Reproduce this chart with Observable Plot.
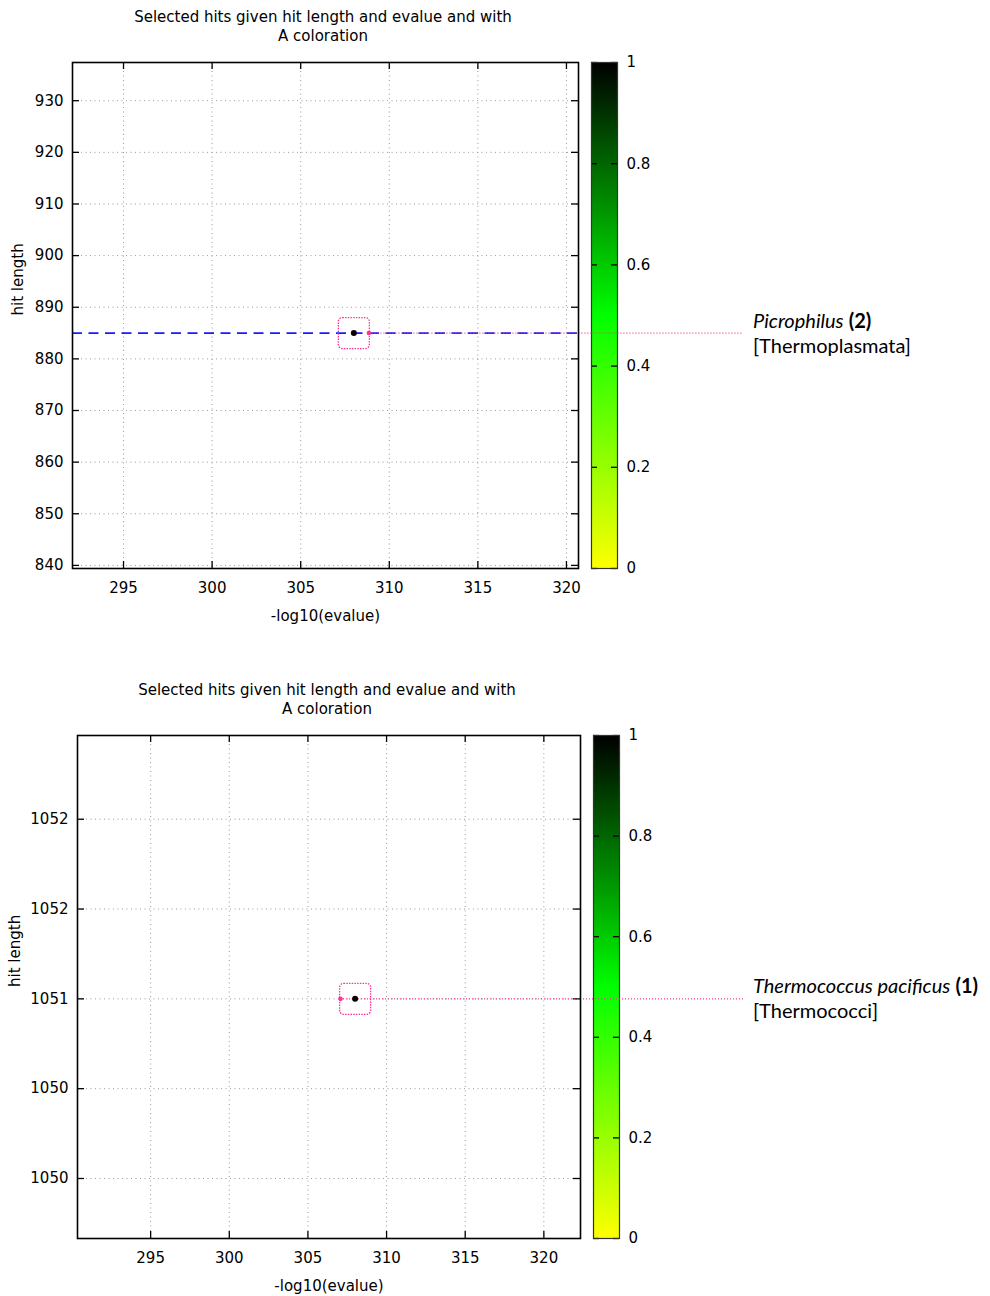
<!DOCTYPE html>
<html>
<head>
<meta charset="utf-8">
<script src="https://cdn.jsdelivr.net/npm/d3@7"></script>
<script src="https://cdn.jsdelivr.net/npm/@observablehq/plot@0.6"></script>
<style>
  body { margin: 0; background: #fff; }
  #root { position: relative; width: 990px; height: 1296px; font-family: "DejaVu Sans", sans-serif; color: #000; }
  .panel { position: absolute; left: 0; width: 990px; }
  .panel svg { position: absolute; top: 0; overflow: visible; }
  .title { position: absolute; top: 7.5px; font-size: 15px; line-height: 19px; text-align: center; white-space: nowrap; transform: translateX(-50%); }
  .lab { position: absolute; font-family: Lato, sans-serif; font-size: 20px; line-height: 25px; white-space: nowrap; }
</style>
</head>
<body>
<div id="root"></div>
<script>
// ---------- data ----------
const titleLines = ["Selected hits given hit length and evalue and with", "A coloration"];
const xLabel = "-log10(evalue)";
const yLabel = "hit length";
const xTicks = [295, 300, 305, 310, 315, 320];
const colorTicks = [0, 0.2, 0.4, 0.6, 0.8, 1];
const colorStops = [0, 0.5, 1];
const colorRange = ["#ffff00", "#00ff00", "#000000"];

// panel 1
const p1XDomain = [292.12, 320.68];
const p1YDomain = [839.4, 937.4];
const p1YTicks = [840, 850, 860, 870, 880, 890, 900, 910, 920, 930];
const p1YTickLabels = ["840", "850", "860", "870", "880", "890", "900", "910", "920", "930"];
const p1Hits = [{evalue: 308.0, length: 885, a: 1}];
const p1Connector = [{evalue: 308.85, length: 885}];
const p1Reference = [885];
const p1Taxon = {name: "Picrophilus", count: "(2)", group: "[Thermoplasmata]"};

// panel 2
const p2XDomain = [290.35, 322.33];
const p2YDomain = [1049.666, 1052.466];
const p2YTicks = [1050, 1050.5, 1051, 1051.5, 1052];
const p2YTickLabels = ["1050", "1050", "1051", "1052", "1052"];
const p2Hits = [{evalue: 308.0, length: 1051, a: 1}];
const p2Connector = [{evalue: 307.07, length: 1051}];
const p2Reference = [];
const p2Taxon = {name: "Thermococcus pacificus", count: "(1)", group: "[Thermococci]"};

// ---------- drawing ----------
const pink = "#ff3399";
const root = document.getElementById("root");

function roundedSquare(c) {
  return {
    draw(ctx, size) {
      const h = Math.sqrt(size / Math.PI);
      ctx.moveTo(-h + c, -h);
      ctx.lineTo(h - c, -h);
      ctx.arcTo(h, -h, h, -h + c, c);
      ctx.lineTo(h, h - c);
      ctx.arcTo(h, h, h - c, h, c);
      ctx.lineTo(-h + c, h);
      ctx.arcTo(-h, h, -h, h - c, c);
      ctx.lineTo(-h, -h + c);
      ctx.arcTo(-h, -h, -h + c, -h, c);
      ctx.closePath();
    }
  };
}

function drawPanel(cfg) {
  const panel = document.createElement("div");
  panel.className = "panel";
  panel.style.top = cfg.top + "px";
  panel.style.height = cfg.height + "px";
  root.appendChild(panel);

  const W = 990, H = cfg.frameBottom + 62;
  const fw = cfg.frameRight - cfg.frameLeft, fh = cfg.frameBottom - cfg.frameTop;
  const tk = 7;
  const fs = 15;
  const labelOf = new Map(cfg.yTicks.map((t, i) => [t, cfg.yTickLabels[i]]));
  const xMax = cfg.xDomain[1];

  // colour bar (drawn first, so the connector line passes over it)
  const cbW = 26, cbSvgW = 70;
  const cb = Plot.plot({
    width: cbSvgW, height: H,
    marginLeft: 1, marginRight: cbSvgW - 1 - cbW,
    marginTop: cfg.frameTop, marginBottom: H - cfg.frameBottom,
    style: {fontFamily: "DejaVu Sans, sans-serif", fontSize: fs + "px", background: "transparent", color: "#000"},
    x: {domain: [0, 1], axis: null},
    y: {domain: [0, 1], axis: null},
    color: {type: "linear", domain: colorStops, range: colorRange, interpolate: "rgb"},
    marks: [
      Plot.raster({x1: 0, x2: 1, y1: 0, y2: 1, fill: (x, y) => y, width: 1, height: 256, imageRendering: "auto"}),
      Plot.ruleY(colorTicks, {y: d => d, insetRight: cbW - 6, stroke: "#000", strokeWidth: 1.3}),
      Plot.ruleY(colorTicks, {y: d => d, insetLeft: cbW - 6, stroke: "#000", strokeWidth: 1.3}),
      Plot.axisY(colorTicks, {anchor: "right", tickSize: 0, tickPadding: 9, label: null, fontSize: fs, tickFormat: d => String(d)}),
      Plot.frame({stroke: "#333", strokeWidth: 1.2})
    ]
  });
  cb.style.left = (cfg.cbLeft - 1) + "px";
  panel.appendChild(cb);

  const main = Plot.plot({
    width: W, height: H,
    marginLeft: cfg.frameLeft, marginRight: W - cfg.frameRight,
    marginTop: cfg.frameTop, marginBottom: H - cfg.frameBottom,
    style: {fontFamily: "DejaVu Sans, sans-serif", fontSize: fs + "px", background: "transparent", color: "#000"},
    x: {domain: cfg.xDomain},
    y: {domain: cfg.yDomain},
    color: {type: "linear", domain: colorStops, range: colorRange, interpolate: "rgb"},
    marks: [
      Plot.gridX(xTicks, {stroke: "#9a9a9a", strokeOpacity: 1, strokeDasharray: "1,3.5"}),
      Plot.gridY(cfg.yTicks, {stroke: "#9a9a9a", strokeOpacity: 1, strokeDasharray: "1,3.5"}),
      Plot.ruleX(xTicks, {x: d => d, insetTop: fh - tk, stroke: "#000", strokeWidth: 1.3}),
      Plot.ruleX(xTicks, {x: d => d, insetBottom: fh - tk, stroke: "#000", strokeWidth: 1.3}),
      Plot.ruleY(cfg.yTicks, {y: d => d, insetRight: fw - tk, stroke: "#000", strokeWidth: 1.3}),
      Plot.ruleY(cfg.yTicks, {y: d => d, insetLeft: fw - tk, stroke: "#000", strokeWidth: 1.3}),
      Plot.axisX(xTicks, {tickSize: 0, tickPadding: 14, label: null, fontSize: fs}),
      Plot.axisY(cfg.yTicks, {tickSize: 0, tickPadding: 9, label: null, fontSize: fs, tickFormat: d => labelOf.get(d)}),
      Plot.text([xLabel], {frameAnchor: "bottom", dy: 52, text: d => d, fontSize: fs}),
      Plot.text([yLabel], {frameAnchor: "left", dx: cfg.yLabelDx, rotate: -90, text: d => d, fontSize: fs}),
      Plot.ruleY(cfg.reference, {y: d => d, stroke: "#1a1aff", strokeWidth: 1.8, strokeDasharray: "10,6.5"}),
      Plot.ruleY(cfg.connector, {y: "length", x1: "evalue", x2: () => xMax, insetRight: -(cfg.lineEnd - cfg.frameRight),
        stroke: pink, strokeWidth: 1.2, strokeDasharray: "1,2"}),
      Plot.dot(cfg.connector, {x: "evalue", y: "length", r: 2.3, fill: pink}),
      Plot.dot(cfg.hits, {x: "evalue", y: "length", r: 15.5, symbol: roundedSquare(4), fill: "none",
        stroke: pink, strokeWidth: 1.3, strokeDasharray: "1.5,1.2"}),
      Plot.dot(cfg.hits, {x: "evalue", y: "length", r: 3, fill: "a", stroke: "none"}),
      Plot.frame({stroke: "#000", strokeWidth: 1.6})
    ]
  });
  main.style.left = "0px";
  panel.appendChild(main);

  // title
  const t = document.createElement("div");
  t.className = "title";
  t.style.left = cfg.titleX + "px";
  t.innerHTML = titleLines.join("<br>");
  panel.appendChild(t);

  // taxon label
  const yPx = main.scale("y").apply(cfg.connector[0].length);
  const lab = document.createElement("div");
  lab.className = "lab";
  lab.style.left = cfg.labelLeft + "px";
  lab.style.top = (yPx - 25) + "px";
  lab.innerHTML = `<i>${cfg.taxon.name}</i> <b>${cfg.taxon.count}</b><br>${cfg.taxon.group}`;
  panel.appendChild(lab);
}

drawPanel({
  top: 0, height: 640,
  frameLeft: 72, frameRight: 578, frameTop: 62, frameBottom: 568,
  xDomain: p1XDomain, yDomain: p1YDomain, yTicks: p1YTicks, yTickLabels: p1YTickLabels,
  hits: p1Hits, connector: p1Connector, reference: p1Reference, taxon: p1Taxon,
  yLabelDx: -54, cbLeft: 591, lineEnd: 743, labelLeft: 753, titleX: 323
});
drawPanel({
  top: 673, height: 623,
  frameLeft: 77, frameRight: 580, frameTop: 62, frameBottom: 565,
  xDomain: p2XDomain, yDomain: p2YDomain, yTicks: p2YTicks, yTickLabels: p2YTickLabels,
  hits: p2Hits, connector: p2Connector, reference: p2Reference, taxon: p2Taxon,
  yLabelDx: -62, cbLeft: 593, lineEnd: 743, labelLeft: 753, titleX: 327
});
</script>
</body>
</html>
